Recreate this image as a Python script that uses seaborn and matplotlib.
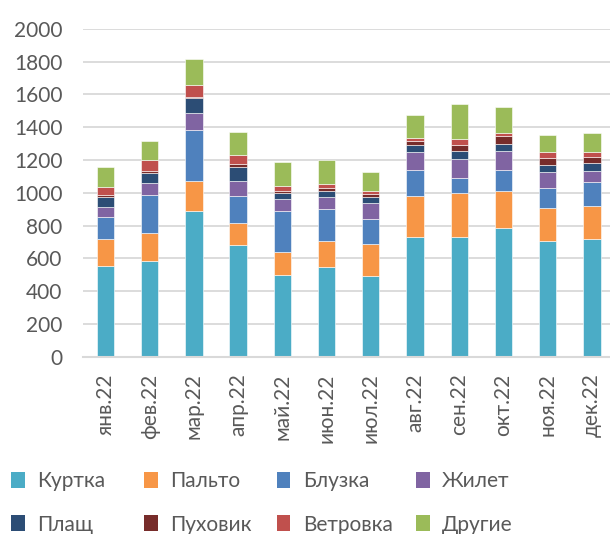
import numpy as np
import matplotlib
matplotlib.use('Agg')
import matplotlib.pyplot as plt
import seaborn as sns
from matplotlib.patches import Patch

# Месяцы (ось X)
months = ['янв.22', 'фев.22', 'мар.22', 'апр.22', 'май.22', 'июн.22',
          'июл.22', 'авг.22', 'сен.22', 'окт.22', 'ноя.22', 'дек.22']

# Продажи по категориям (снизу вверх)
kurtka = [555, 582, 889, 680, 497, 549, 491, 728, 728, 783, 704, 720]
palto = [161, 175, 181, 136, 144, 157, 197, 251, 269, 228, 201, 198]
bluzka = [138, 232, 311, 163, 246, 197, 150, 162, 93, 130, 122, 146]
zhilet = [61, 71, 106, 93, 73, 73, 102, 108, 116, 114, 100, 71]
plashch = [61, 63, 90, 85, 41, 37, 34, 45, 49, 45, 43, 47]
puhovik = [9, 8, 10, 17, 12, 18, 17, 24, 37, 45, 44, 38]
vetrovka = [52, 71, 73, 57, 30, 23, 20, 18, 36, 20, 33, 31]
drugie = [119, 114, 158, 140, 145, 144, 114, 139, 214, 157, 106, 112]

series_names = ['Куртка', 'Пальто', 'Блузка', 'Жилет',
                'Плащ', 'Пуховик', 'Ветровка', 'Другие']
series_values = [kurtka, palto, bluzka, zhilet, plashch, puhovik, vetrovka, drugie]
colors = ['#4BACC6', '#F79646', '#4F81BD', '#8064A2',
          '#2C4D75', '#772C2A', '#C0504D', '#9BBB59']

TEXT = '#595959'
GRID = '#D9D9D9'

sns.set_theme(style='white')
plt.rcParams['font.family'] = ['Lato', 'Open Sans', 'DejaVu Sans']

fig = plt.figure(figsize=(6.10, 5.34), dpi=100)
ax = fig.add_axes([0.1366, 0.332, 0.870, 0.614])

# Stacked bars
bottom = np.zeros(len(months))
for name, vals, color in zip(series_names, series_values, colors):
    sns.barplot(x=months, y=vals, bottom=bottom, color=color, saturation=1,
                width=0.39, errorbar=None, ax=ax,
                edgecolor='white', linewidth=0.4)
    bottom += np.array(vals)

ax.set_xlim(-0.5, len(months) - 0.5)
ax.set_ylim(0, 2000)
ax.set_yticks(range(0, 2001, 200))
ax.yaxis.grid(True, color=GRID, linewidth=1.3)
ax.set_axisbelow(True)
for s in ['top', 'right', 'left']:
    ax.spines[s].set_visible(False)
ax.spines['bottom'].set_color(GRID)
ax.spines['bottom'].set_linewidth(1.5)

ax.set_xticks(range(len(months)))
ax.set_xticklabels(months, rotation=90)
ax.set_xticks(np.arange(-0.5, len(months), 1), minor=True)
ax.tick_params(axis='x', which='major', length=0, pad=12,
               labelsize=15, labelcolor=TEXT)
ax.tick_params(axis='x', which='minor', length=6, width=1.5,
               color=GRID, direction='out')
ax.tick_params(axis='y', length=0, pad=15, labelsize=15, labelcolor=TEXT)
ax.set_xlabel('')
ax.set_ylabel('')

# Legend: 4 columns, 2 rows (row-wise order as in Excel)
handles = [Patch(facecolor=c, edgecolor='none', label=n)
           for n, c in zip(series_names, colors)]
col_x = [0.018, 0.236, 0.454, 0.682]
for j, x0 in enumerate(col_x):
    leg = fig.legend(handles=[handles[j], handles[j + 4]], ncol=1,
                     loc='center left', bbox_to_anchor=(x0, 0.058),
                     frameon=False, fontsize=15, handlelength=0.65,
                     handleheight=0.8, handletextpad=0.6,
                     labelspacing=1.12, borderpad=0, borderaxespad=0)
    for t in leg.get_texts():
        t.set_color(TEXT)

fig.savefig('out.png', dpi=100)
